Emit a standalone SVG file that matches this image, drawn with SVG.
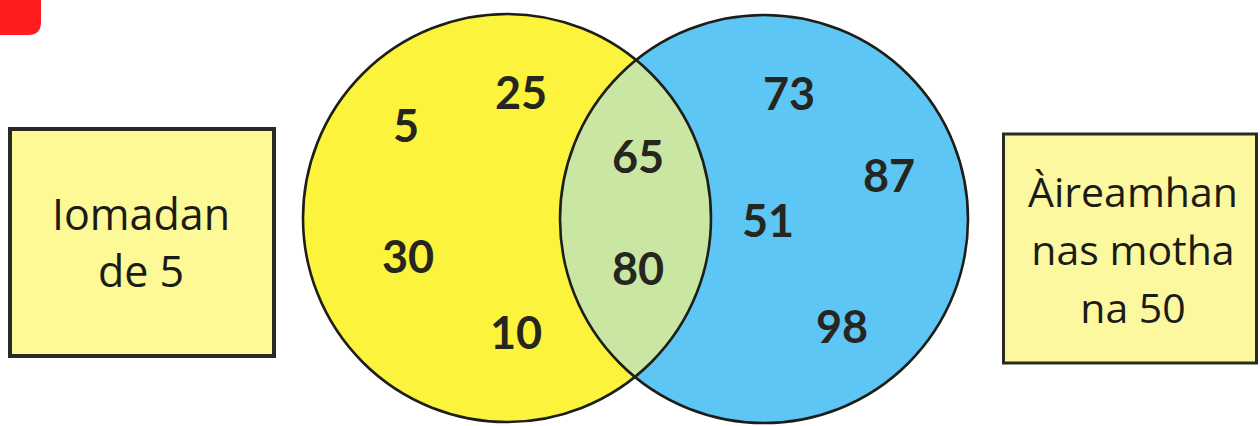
<svg xmlns="http://www.w3.org/2000/svg" width="1260" height="426" viewBox="0 0 1260 426">
<style>
.num{font-family:Lato,"Open Sans","Liberation Sans",sans-serif;font-weight:700;font-size:45px;fill:#26261f;text-anchor:middle}
.lbl{font-family:"Open Sans","Liberation Sans",sans-serif;font-weight:400;fill:#1c1c16;text-anchor:middle}
.box{stroke:#2a2a22}
.ring{fill:none;stroke:#1e1e18;stroke-width:2.6}
</style>
<defs>
<clipPath id="clipY"><circle cx="507" cy="218" r="204"/></clipPath>
</defs>
<rect width="1260" height="426" fill="#ffffff"/>
<g id="corner">
<path d="M0 0 H41 V22 Q41 35 28 35 H0 Z" fill="#fe1c1c"/>
</g>
<g id="venn">
<circle id="setA" cx="507" cy="218" r="204" fill="#fbf33c"/>
<circle id="setB" cx="764" cy="219" r="204" fill="#5dc6f4"/>
<circle id="overlap" cx="764" cy="219" r="204" fill="#c9e7a2" clip-path="url(#clipY)"/>
<circle class="ring" cx="507" cy="218" r="204"/>
<circle class="ring" cx="764" cy="219" r="204"/>
</g>
<g id="numbers">
<text class="num" x="406" y="142">5</text>
<text class="num" x="521" y="109">25</text>
<text class="num" x="408" y="273">30</text>
<text class="num" x="516" y="349">10</text>
<text class="num" x="638" y="173">65</text>
<text class="num" x="638" y="285">80</text>
<text class="num" x="789" y="110">73</text>
<text class="num" x="889" y="192">87</text>
<text class="num" x="768" y="237">51</text>
<text class="num" x="842" y="343">98</text>
</g>
<g id="labelA">
<rect class="box" x="10" y="129" width="264" height="227" fill="#fcf996" stroke-width="4"/>
<text class="lbl" font-size="43" x="141" y="230">Iomadan</text>
<text class="lbl" font-size="43" x="141" y="287">de 5</text>
</g>
<g id="labelB">
<rect class="box" x="1003.5" y="134" width="253" height="229" fill="#fbf8a0" stroke-width="3"/>
<text class="lbl" font-size="41" x="1133" y="207">Àireamhan</text>
<text class="lbl" font-size="41" x="1133" y="265">nas motha</text>
<text class="lbl" font-size="41" x="1133" y="323">na 50</text>
</g>
</svg>
